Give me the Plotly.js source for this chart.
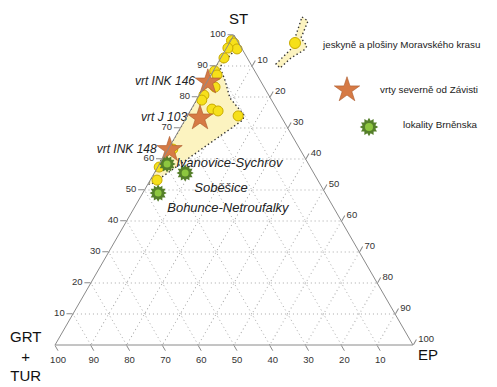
<!DOCTYPE html>
<html><head><meta charset="utf-8">
<script src="https://cdn.plot.ly/plotly-3.0.1.min.js"></script>
<style>html,body{margin:0;padding:0;background:#fff}</style>
</head><body><div id="chart" style="width:497px;height:387px"></div>
<script>
// ---- data (ST, GRT+TUR, EP in %) ----
const caveST  = [98.2, 97.4, 95.5, 95.8, 92.6, 88.4, 87.1, 83.2, 80.6, 79.0, 76.1, 75.5, 73.9, 63.2, 57.4, 53.2];
const caveGRT = [ 1.6,  1.3,  1.4,  3.8,  6.5, 11.2, 11.2, 13.7, 18.1, 19.5, 18.1, 16.7, 11.9, 35.5, 42.2, 44.9];
const caveEP  = [ 0.2,  1.3,  3.1,  0.4,  0.9,  0.4,  1.7,  3.1,  1.3,  1.5,  5.8,  7.8, 14.2,  1.3,  0.4,  1.9];

const boreNames = ['vrt INK 146', 'vrt J 103', 'vrt INK 148'];
const boreST  = [84.8, 73.2, 63.0];
const boreGRT = [14.9, 22.9, 36.5];
const boreEP  = [ 0.3,  3.9,  0.5];

const siteNames = ['Ivanovice-Sychrov', 'Soběšice', 'Bohunce-Netroufalky'];
const siteST  = [58.4, 55.5, 49.0];
const siteGRT = [39.5, 35.9, 46.7];
const siteEP  = [ 2.1,  8.6,  4.3];

// outline of the field of the Moravian Karst samples
const areaST  = [99.4, 96.5, 89.7, 85.5, 79.7, 74.2, 72.6, 51.9, 51.9, 99.4];
const areaGRT = [ 0.6,  0.5,  9.1,  9.8, 11.3, 10.1, 11.2, 47.0, 48.1,  0.6];
const areaEP  = [ 0.0,  3.0,  1.2,  4.7,  9.0, 15.7, 16.2,  1.1,  0.0,  0.0];

const tickValues = [10, 20, 30, 40, 50, 60, 70, 80, 90, 100];
const legendLabels = ['jeskyně a plošiny Moravského krasu', 'vrty severně od Závisti', 'lokality Brněnska'];
const cornerTitles = ['ST', 'GRT<br>+<br>TUR', 'EP'];

// ---- styling ----
const FONT = '"Liberation Sans", Arial, sans-serif';
const yellow = '#f6e01a', yellowLine = '#c9ab00';
const starFill = '#d67a45', starLine = '#a9592c';
const greenDark = '#557f2a', greenLight = '#8dc63f';
const areaFill = '#fcf3c0';

function axis() {
  return {
    title: {text: ''}, tickmode: 'array', tickvals: tickValues,
    ticks: 'outside', ticklen: 6, tickcolor: '#8a8a8a', tickwidth: 1,
    linecolor: '#8a8a8a', linewidth: 1, showline: true,
    showgrid: true, gridcolor: '#a8a8a8', griddash: '1px,3px', gridwidth: 1,
    tickfont: {family: FONT, size: 9.5, color: '#333'}
  };
}

const traces = [
  {type: 'scatterternary', mode: 'lines', a: areaST, b: areaGRT, c: areaEP,
   fill: 'toself', fillcolor: areaFill, cliponaxis: false,
   line: {color: '#333', width: 1.4, dash: '1.4px,2.6px'}, hoverinfo: 'skip', showlegend: false},
  {type: 'scatterternary', mode: 'markers', a: caveST, b: caveGRT, c: caveEP, cliponaxis: false,
   marker: {symbol: 'circle', size: 10, color: yellow, line: {color: yellowLine, width: 1}},
   hoverinfo: 'skip', showlegend: false},
  {type: 'scatterternary', mode: 'markers+text', a: boreST, b: boreGRT, c: boreEP, cliponaxis: false,
   text: boreNames, textposition: 'middle left',
   textfont: {family: FONT, size: 12, color: '#222', style: 'italic'},
   marker: {symbol: 'star', size: 19, color: starFill, line: {color: starLine, width: 0.6}},
   hoverinfo: 'skip', showlegend: false},
  {type: 'scatterternary', mode: 'markers', a: siteST, b: siteGRT, c: siteEP, cliponaxis: false,
   marker: {symbol: 'hexagram', size: 13, color: greenDark, angle: 0, line: {width: 0}},
   hoverinfo: 'skip', showlegend: false},
  {type: 'scatterternary', mode: 'markers+text', a: siteST, b: siteGRT, c: siteEP, cliponaxis: false,
   text: siteNames, textposition: ['middle right', 'bottom right', 'bottom right'],
   textfont: {family: FONT, size: 13, color: '#222', style: 'italic'},
   marker: {symbol: 'hexagram', size: 13, color: greenDark, angle: 30, line: {width: 0}},
   hoverinfo: 'skip', showlegend: false},
  {type: 'scatterternary', mode: 'markers', a: siteST, b: siteGRT, c: siteEP, cliponaxis: false,
   marker: {symbol: 'circle', size: 7, color: greenLight, line: {width: 0}},
   hoverinfo: 'skip', showlegend: false}
];

// ---- custom legend drawn on an invisible pixel-scaled overlay ----
const legIcon = {x: [295, 347, 369], y: [43, 90, 127]};
const legText = {x: [320, 378, 401], y: [44, 89, 124]};
traces.push(
  {type: 'scatter', mode: 'markers', x: [legIcon.x[0]], y: [legIcon.y[0]], xaxis: 'x', yaxis: 'y',
   marker: {symbol: 'circle', size: 11, color: yellow, line: {color: yellowLine, width: 1}}, hoverinfo: 'skip', showlegend: false},
  {type: 'scatter', mode: 'markers', x: [legIcon.x[1]], y: [legIcon.y[1]], xaxis: 'x', yaxis: 'y',
   marker: {symbol: 'star', size: 19, color: starFill, line: {color: starLine, width: 0.6}}, hoverinfo: 'skip', showlegend: false},
  {type: 'scatter', mode: 'markers', x: [legIcon.x[2], legIcon.x[2]], y: [legIcon.y[2], legIcon.y[2]], xaxis: 'x', yaxis: 'y',
   marker: {symbol: 'hexagram', size: 14, color: greenDark, angle: [0, 30], line: {width: 0}}, hoverinfo: 'skip', showlegend: false},
  {type: 'scatter', mode: 'markers', x: [legIcon.x[2]], y: [legIcon.y[2]], xaxis: 'x', yaxis: 'y',
   marker: {symbol: 'circle', size: 8, color: greenLight, line: {width: 0}}, hoverinfo: 'skip', showlegend: false}
);

const annotations = [
  {text: cornerTitles[0], x: 238, y: 18},
  {text: cornerTitles[1], x: 25, y: 356},
  {text: cornerTitles[2], x: 428, y: 354}
].map(o => Object.assign({xref: 'x', yref: 'y', showarrow: false, xanchor: 'center', yanchor: 'middle',
  font: {family: FONT, size: 15, color: '#111'}}, o));
legendLabels.forEach((t, i) => annotations.push({
  text: t, x: legText.x[i], y: legText.y[i], xref: 'x', yref: 'y', showarrow: false,
  xanchor: 'left', yanchor: 'middle', font: {family: FONT, size: 9.8, color: '#222'}}));

const layout = {
  width: 497, height: 387, margin: {l: 0, r: 0, t: 0, b: 0},
  paper_bgcolor: '#fff', plot_bgcolor: 'rgba(0,0,0,0)', showlegend: false,
  ternary: {
    domain: {x: [55 / 497, 413 / 497], y: [42 / 387, 352 / 387]},
    sum: 100, bgcolor: 'rgba(0,0,0,0)',
    aaxis: axis(), baxis: axis(), caxis: axis()
  },
  xaxis: {range: [0, 497], visible: false, fixedrange: true, domain: [0, 1]},
  yaxis: {range: [387, 0], visible: false, fixedrange: true, domain: [0, 1]},
  shapes: [{type: 'path', xref: 'x', yref: 'y', layer: 'below',
    path: 'M302,17 L308,21 L301,38 L307,46 L304,50 L291,58 L280,68 L276,64 L292,48 L295,38 Z',
    fillcolor: areaFill, line: {color: '#333', width: 1.4, dash: '1.4px,2.6px'}}],
  annotations: annotations
};

Plotly.newPlot('chart', traces, layout, {staticPlot: true, displayModeBar: false});
</script></body></html>
